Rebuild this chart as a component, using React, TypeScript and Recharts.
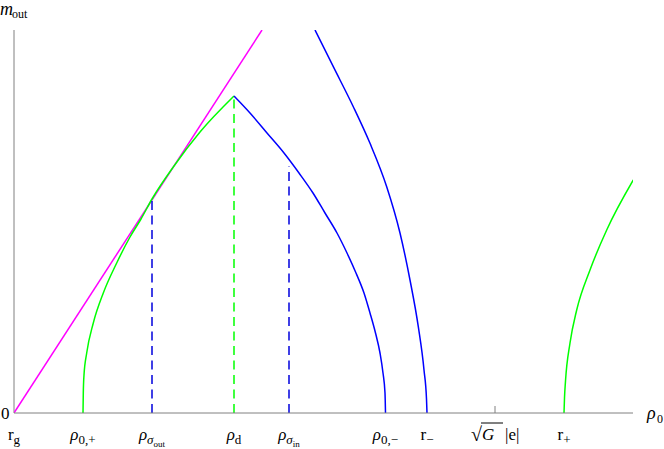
import { Line, LineChart, ReferenceLine, XAxis, YAxis } from 'recharts'

// x = radius (arbitrary units), y = m_out (arbitrary units)
const magenta = [
    { x: 0, y: 0 },
    { x: 248, y: 383 },
]

const greenLeft = [
    { x: 69, y: 0 },
    { x: 69.3, y: 20 },
    { x: 70, y: 38 },
    { x: 72.7, y: 60 },
    { x: 79.3, y: 90 },
    { x: 89.3, y: 120 },
    { x: 102.7, y: 150 },
    { x: 116, y: 176 },
    { x: 127, y: 194 },
    { x: 138, y: 214 },
    { x: 160, y: 247 },
    { x: 186, y: 281 },
    { x: 220, y: 317 },
]

const blueLeft = [
    { x: 220, y: 317 },
    { x: 236, y: 300 },
    { x: 253, y: 280 },
    { x: 270, y: 260 },
    { x: 285, y: 240 },
    { x: 299, y: 220 },
    { x: 311, y: 200 },
    { x: 323, y: 180 },
    { x: 333, y: 160 },
    { x: 342, y: 140 },
    { x: 350, y: 120 },
    { x: 356, y: 100 },
    { x: 361.5, y: 80 },
    { x: 366, y: 60 },
    { x: 369, y: 40 },
    { x: 371, y: 20 },
    { x: 371.5, y: 0 },
]

const blueRight = [
    { x: 301, y: 383 },
    { x: 319.3, y: 346.3 },
    { x: 339.3, y: 306.3 },
    { x: 356, y: 269.7 },
    { x: 372.7, y: 226.3 },
    { x: 386, y: 180 },
    { x: 396, y: 133 },
    { x: 404.3, y: 86.3 },
    { x: 410, y: 43 },
    { x: 412.5, y: 14 },
    { x: 413, y: 0 },
]

const greenRight = [
    { x: 550, y: 0 },
    { x: 550.5, y: 15 },
    { x: 551.5, y: 32 },
    { x: 556, y: 70 },
    { x: 562.7, y: 103 },
    { x: 576, y: 143 },
    { x: 592.7, y: 183 },
    { x: 619.3, y: 233 },
]

const dashSigmaOut = [
    { x: 138, y: 0 },
    { x: 138, y: 214 },
]
const dashD = [
    { x: 220, y: 0 },
    { x: 220, y: 317 },
]
const dashSigmaIn = [
    { x: 275, y: 0 },
    { x: 275, y: 247 },
]

const tickX = [0, 69, 138, 220, 275, 371.5, 413, 481, 550]
const tickMain = ['r', 'ρ', 'ρ', 'ρ', 'ρ', 'ρ', 'r', '√G |e|', 'r']
const tickSub = ['g', '0,+', 'σ', 'd', 'σ', '0,−', '−', '', '+']
const tickSubSub = ['', '', 'out', '', 'in', '', '', '', '']

const FONT = '"Liberation Serif", "DejaVu Serif", serif'
const AXIS = '#808080'
const GREEN = '#00ff00'
const BLUE = '#0000ff'

const RadiusTick = (props: any) => {
    const { x, y, payload } = props
    const i = tickX.indexOf(payload.value)
    if (i < 0) return null
    const base = y + 27
    if (tickMain[i].startsWith('√')) {
        // sqrt(G) |e| drawn piecewise
        return (
            <g fontFamily={FONT} fontSize={17} fill="#000">
                <line x1={x} y1={y - 7} x2={x} y2={y} stroke={AXIS} />
                <text x={x - 24} y={base + 1} fontSize={20}>√</text>
                <line x1={x - 14} y1={base - 17} x2={x + 8} y2={base - 17} stroke="#000" strokeWidth={1} />
                <text x={x - 13} y={base} fontStyle="italic">G</text>
                <text x={x + 10} y={base}>|e|</text>
            </g>
        )
    }
    return (
        <text x={x} y={base} textAnchor="middle" fontFamily={FONT} fontSize={17} fill="#000">
            <tspan fontStyle={tickMain[i] === 'ρ' ? 'italic' : 'normal'}>{tickMain[i]}</tspan>
            {tickSub[i] && (
                <tspan dy={4} fontSize={13} fontStyle={tickSub[i] === 'σ' ? 'italic' : 'normal'}>
                    {tickSub[i]}
                </tspan>
            )}
            {tickSubSub[i] && (
                <tspan dy={3} fontSize={9}>
                    {tickSubSub[i]}
                </tspan>
            )}
        </text>
    )
}

const App = () => {
    return (
        <div style={{ position: 'absolute', left: 0, top: 0, width: 664, height: 449, background: '#fff' }}>
            <LineChart width={664} height={449} margin={{ top: 30, right: 31, left: 14, bottom: 0 }}>
                <XAxis
                    type="number"
                    dataKey="x"
                    domain={[0, 619]}
                    ticks={tickX}
                    interval={0}
                    height={36}
                    tickLine={false}
                    tickSize={0}
                    tickMargin={0}
                    tick={<RadiusTick />}
                    axisLine={{ stroke: AXIS }}
                    allowDataOverflow
                />
                <YAxis type="number" dataKey="y" domain={[0, 383]} hide allowDataOverflow />
                <ReferenceLine x={0} stroke={AXIS} />

                <Line data={magenta} dataKey="y" type="linear" stroke="#ff00ff" strokeWidth={1.5} dot={false} isAnimationActive={false} />
                <Line data={greenLeft} dataKey="y" type="monotone" stroke={GREEN} strokeWidth={1.5} dot={false} isAnimationActive={false} />
                <Line data={blueLeft} dataKey="y" type="monotone" stroke={BLUE} strokeWidth={1.5} dot={false} isAnimationActive={false} />
                <Line data={blueRight} dataKey="y" type="monotone" stroke={BLUE} strokeWidth={1.5} dot={false} isAnimationActive={false} />
                <Line data={greenRight} dataKey="y" type="monotone" stroke={GREEN} strokeWidth={1.5} dot={false} isAnimationActive={false} />

                <Line data={dashSigmaOut} dataKey="y" type="linear" stroke="#0000dd" strokeWidth={1.5} strokeDasharray="9 5.5" dot={false} isAnimationActive={false} />
                <Line data={dashD} dataKey="y" type="linear" stroke={GREEN} strokeWidth={1.5} strokeDasharray="9 5.5" dot={false} isAnimationActive={false} />
                <Line data={dashSigmaIn} dataKey="y" type="linear" stroke="#0000dd" strokeWidth={1.5} strokeDasharray="9 5.5" dot={false} isAnimationActive={false} />
            </LineChart>
            <svg width={664} height={449} style={{ position: 'absolute', left: 0, top: 0, pointerEvents: 'none' }}>
                <g fontFamily={FONT} fill="#000">
                    <text x={0} y={15} fontSize={18} fontStyle="italic">m</text>
                    <text x={12} y={18} fontSize={12}>out</text>
                    <text x={1} y={419} fontSize={17}>0</text>
                    <text x={647} y={419} fontSize={18} fontStyle="italic">ρ</text>
                    <text x={657} y={423} fontSize={12}>0</text>
                </g>
            </svg>
        </div>
    )
}

export default App
